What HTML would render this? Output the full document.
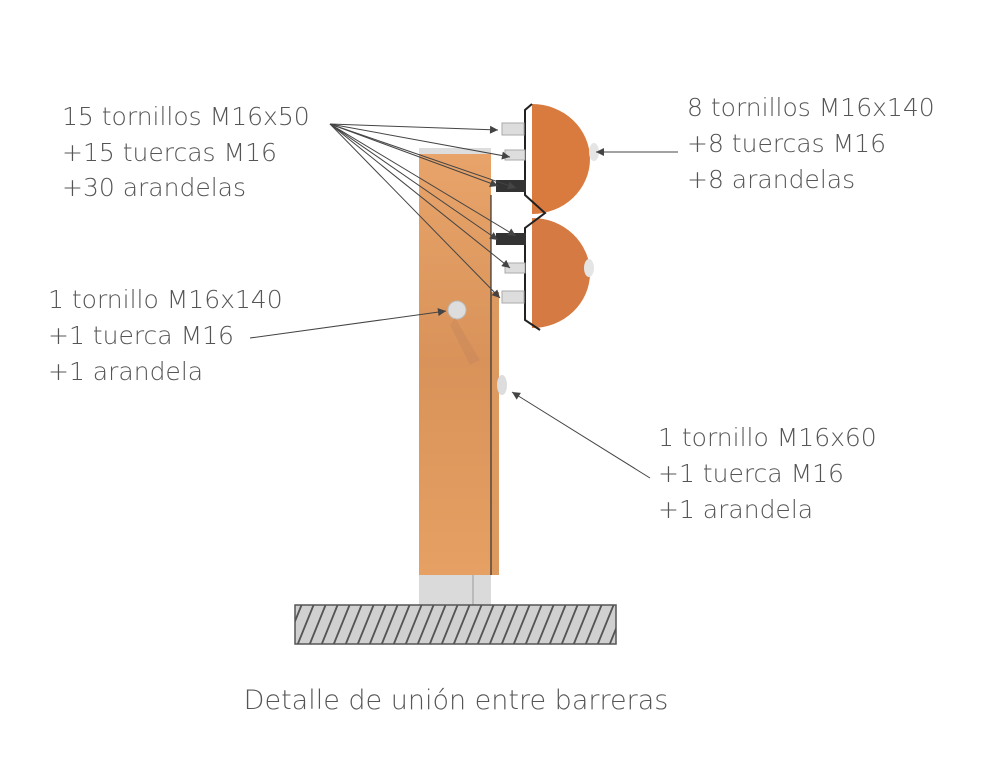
<!DOCTYPE html>
<html><head><meta charset="utf-8"><style>
html,body{margin:0;padding:0;background:#fff;}
svg{display:block;}
text{font-family:"DejaVu Sans","Liberation Sans",sans-serif;fill:#555;font-weight:200;}
</style></head><body>
<svg width="984" height="769" viewBox="0 0 984 769" xmlns="http://www.w3.org/2000/svg">
<defs>
<marker id="a" viewBox="0 0 10 10" refX="10" refY="5" markerWidth="10" markerHeight="8" orient="auto" markerUnits="userSpaceOnUse"><path d="M0,0L10,5L0,10z" fill="#444"/></marker>
<pattern id="h" width="12" height="40" patternUnits="userSpaceOnUse" patternTransform="skewX(-22)"><line x1="6" y1="0" x2="6" y2="40" stroke="#555" stroke-width="2"/></pattern>
<linearGradient id="w" x1="0" x2="0" y1="0" y2="1"><stop offset="0" stop-color="#e8a46a"/><stop offset="0.5" stop-color="#d9935a"/><stop offset="1" stop-color="#e6a063"/></linearGradient>
</defs>
<rect x="419" y="575" width="72" height="30" fill="#dadada"/>
<line x1="473" y1="575" x2="473" y2="605" stroke="#999"/>
<rect x="419" y="148" width="72" height="427" fill="url(#w)"/>
<rect x="419" y="148" width="72" height="6" fill="#ddd"/>
<rect x="491" y="292" width="8" height="283" fill="#dc9a60"/>
<line x1="491" y1="195" x2="491" y2="575" stroke="#333" stroke-width="1.2"/>
<ellipse cx="457" cy="310" rx="9" ry="9" fill="#ddd" stroke="#bbb"/>
<path d="M455,318 L480,360 L470,365 L450,325z" fill="#c8855a" opacity="0.5"/>
<ellipse cx="502" cy="385" rx="5" ry="10" fill="#ddd"/>
<rect x="295" y="605" width="321" height="39" fill="#d0d0d0"/>
<rect x="295" y="605" width="321" height="39" fill="url(#h)"/>
<rect x="295" y="605" width="321" height="39" fill="none" stroke="#555" stroke-width="1.5"/>
<path d="M532,104 A58,55 0 0 1 532,214z" fill="#d97b3e"/>
<path d="M532,218 A58,55 0 0 1 532,328z" fill="#d57a42"/>
<path d="M532,104 L525,110 L525,195 L545,213 L525,228 L525,320 L540,330" fill="none" stroke="#222" stroke-width="2"/>
<g fill="#ddd" stroke="#aaa">
<rect x="502" y="123" width="22" height="12"/>
<rect x="505" y="150" width="20" height="10"/>
<rect x="505" y="263" width="20" height="10"/>
<rect x="502" y="291" width="22" height="12"/>
</g>
<g fill="#333"><rect x="496" y="180" width="30" height="12"/><rect x="496" y="233" width="30" height="12"/></g>
<ellipse cx="594" cy="152" rx="5" ry="9" fill="#e5e5e5"/>
<ellipse cx="589" cy="268" rx="5" ry="9" fill="#e5e5e5"/>
<g stroke="#444" stroke-width="1" fill="none" marker-end="url(#a)">
<line x1="330" y1="124" x2="498" y2="130"/>
<line x1="330" y1="124" x2="510" y2="157"/>
<line x1="330" y1="124" x2="498" y2="186"/>
<line x1="330" y1="124" x2="516" y2="188"/>
<line x1="330" y1="124" x2="498" y2="240"/>
<line x1="330" y1="124" x2="516" y2="236"/>
<line x1="330" y1="124" x2="510" y2="268"/>
<line x1="330" y1="124" x2="500" y2="298"/>
<line x1="678" y1="152" x2="596" y2="152"/>
<line x1="250" y1="338" x2="446" y2="311"/>
<line x1="650" y1="478" x2="512" y2="392"/>
</g>
<g font-size="25">
<text x="62" y="125">15 tornillos M16x50</text>
<text x="62" y="161">+15 tuercas M16</text>
<text x="62" y="196">+30 arandelas</text>
<text x="687" y="116">8 tornillos M16x140</text>
<text x="687" y="152">+8 tuercas M16</text>
<text x="687" y="188">+8 arandelas</text>
<text x="48" y="308">1 tornillo M16x140</text>
<text x="48" y="344">+1 tuerca M16</text>
<text x="48" y="380">+1 arandela</text>
<text x="658" y="446">1 tornillo M16x60</text>
<text x="658" y="482">+1 tuerca M16</text>
<text x="658" y="518">+1 arandela</text>
</g>
<text x="456" y="709" font-size="27" text-anchor="middle">Detalle de unión entre barreras</text>
</svg>
</body></html>
